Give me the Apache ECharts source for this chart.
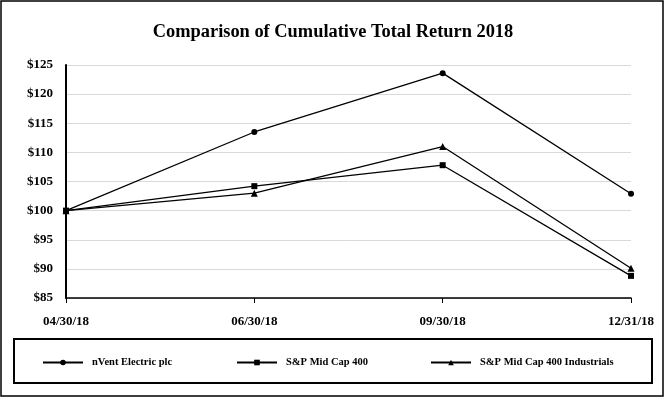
<!DOCTYPE html>
<html>
<head>
<meta charset="utf-8">
<script src="https://cdn.jsdelivr.net/npm/echarts@6/dist/echarts.min.js"></script>
<style>
html,body{margin:0;padding:0;background:#fff;}
#chart{width:666px;height:398px;}
</style>
</head>
<body>
<div id="chart"></div>
<script>
var categories = ['04/30/18', '06/30/18', '09/30/18', '12/31/18'];
var nventValues = [100, 113.5, 123.6, 102.9];
var midCap400Values = [100, 104.2, 107.8, 88.8];
var midCapIndustrialsValues = [100, 103.0, 111.0, 90.1];
var seriesNames = ['nVent Electric plc', 'S&P Mid Cap 400', 'S&P Mid Cap 400 Industrials'];
var titleText = 'Comparison of Cumulative Total Return 2018';

var FONT = '"Liberation Serif", "Times New Roman", serif';
var chart = echarts.init(document.getElementById('chart'), null, {renderer: 'canvas'});

function legendAt(name, left) {
  return {
    data: [name],
    left: left,
    top: 357,
    padding: 0,
    itemWidth: 40,
    itemHeight: 7,
    textStyle: {fontFamily: FONT, fontWeight: 'bold', fontSize: 10.5, color: '#000', padding: [0, 0, 0, 4]}
  };
}

var option = {
  backgroundColor: '#fff',
  animation: false,
  title: {
    text: titleText,
    left: 'center',
    top: 18,
    textStyle: {fontFamily: FONT, fontWeight: 'bold', fontSize: 18.4, color: '#000'}
  },
  legend: [
    legendAt(seriesNames[0], 42),
    legendAt(seriesNames[1], 236),
    legendAt(seriesNames[2], 430)
  ],
  grid: {left: 66, right: 35, top: 65, bottom: 100, containLabel: false},
  xAxis: {
    type: 'category',
    data: categories,
    boundaryGap: false,
    axisLine: {show: true, lineStyle: {color: '#000', width: 1.5}},
    axisTick: {show: true, length: 5, lineStyle: {color: '#000', width: 1}},
    axisLabel: {fontFamily: FONT, fontWeight: 'bold', fontSize: 13, color: '#000', margin: 17},
    splitLine: {show: false}
  },
  yAxis: {
    type: 'value',
    min: 85,
    max: 125,
    interval: 5,
    axisLine: {show: true, lineStyle: {color: '#000', width: 2}},
    axisTick: {show: false},
    axisLabel: {
      fontFamily: FONT, fontWeight: 'bold', fontSize: 13, color: '#000', margin: 13,
      formatter: function (v) { return '$' + v; }
    },
    splitLine: {show: true, lineStyle: {color: '#d9d9d9', width: 1}}
  },
  series: [
    {
      name: seriesNames[0], type: 'line', data: nventValues,
      symbol: 'circle', symbolSize: 6,
      lineStyle: {color: '#000', width: 1.3},
      itemStyle: {color: '#000'}
    },
    {
      name: seriesNames[1], type: 'line', data: midCap400Values,
      symbol: 'rect', symbolSize: 6,
      lineStyle: {color: '#000', width: 1.3},
      itemStyle: {color: '#000'}
    },
    {
      name: seriesNames[2], type: 'line', data: midCapIndustrialsValues,
      symbol: 'triangle', symbolSize: 7,
      lineStyle: {color: '#000', width: 1.3},
      itemStyle: {color: '#000'}
    }
  ],
  graphic: [
    {type: 'rect', shape: {x: 1, y: 1, width: 662, height: 395}, style: {fill: null, stroke: '#000', lineWidth: 1.5}, silent: true, z: -1},
    {type: 'rect', shape: {x: 14, y: 339, width: 638, height: 44}, style: {fill: null, stroke: '#000', lineWidth: 2}, silent: true, z: -1}
  ]
};
chart.setOption(option);
</script>
</body>
</html>
